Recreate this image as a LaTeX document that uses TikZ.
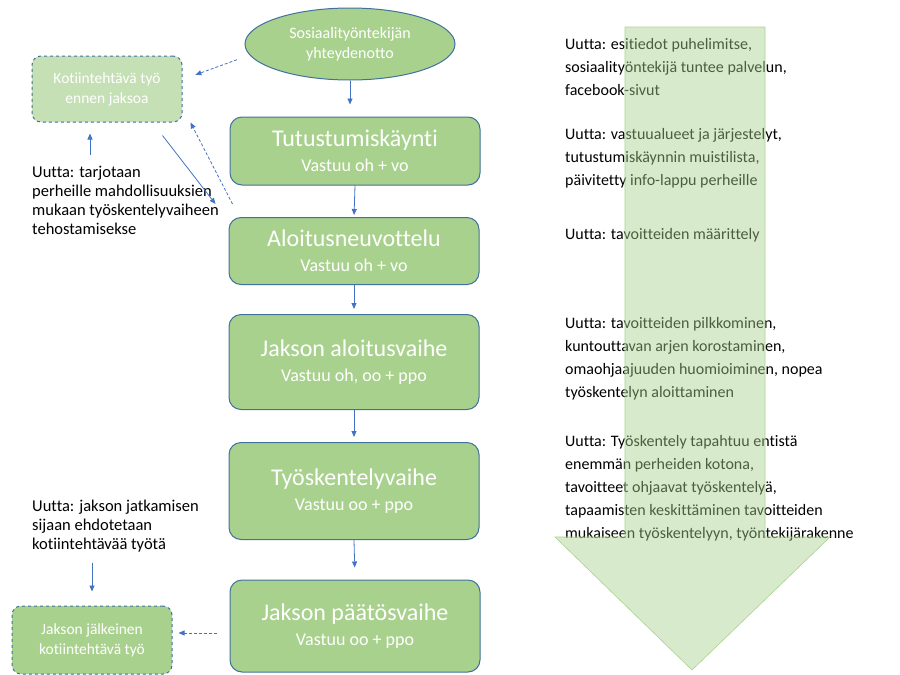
\documentclass[tikz,border=0pt]{standalone}
\usepackage{fontspec}
\setmainfont{Carlito}[Ligatures=NoCommon]
\usepackage{xcolor}
\usepackage{tikz}
\usetikzlibrary{shapes.geometric,arrows.meta,positioning}
\definecolor{boxgreen}{HTML}{A9D18E}
\definecolor{palegreen}{HTML}{C5E0B4}
\definecolor{boxline}{HTML}{41719C}
\definecolor{linkblue}{HTML}{4472C4}
\newcommand{\resp}[1]{{\fontsize{18}{20}\selectfont #1}}

\begin{document}
\begin{tikzpicture}[x=1pt,y=-1pt,
  phase/.style={draw=boxline,line width=1pt,fill=boxgreen,rounded corners=12pt,
    text=white,align=center,minimum width=250pt,inner sep=0pt,
    font=\fontsize{24}{25}\selectfont},
  extra/.style={draw=boxline,line width=1pt,dashed,rounded corners=9pt,
    text=white,align=center,inner sep=0pt,font=\fontsize{15.5}{20}\selectfont},
  note/.style={align=left,inner sep=0pt,font=\fontsize{16.5}{19}\selectfont},
  gain/.style={align=left,inner sep=0pt,font=\fontsize{16}{23}\selectfont},
  link/.style={draw=linkblue,line width=0.8pt,-{Triangle[length=6pt,width=5pt]}},
  linkdash/.style={link,dash pattern=on 3pt off 2pt}]
  \useasboundingbox (0,0) rectangle (900,675);

  % Right column: what is new in each phase
  \node[gain,anchor=north west] (g1) at (565,38) {Uutta: esitiedot puhelimitse,\\sosiaalityöntekijä tuntee palvelun,\\facebook-sivut};
  \node[gain,anchor=north west] (g2) at (565,128) {Uutta: vastuualueet ja järjestelyt,\\tutustumiskäynnin muistilista,\\päivitetty info-lappu perheille};
  \node[gain,anchor=north west] (g3) at (565,228) {Uutta: tavoitteiden määrittely};
  \node[gain,anchor=north west] (g4) at (565,317) {Uutta: tavoitteiden pilkkominen,\\kuntouttavan arjen korostaminen,\\omaohjaajuuden huomioiminen, nopea\\työskentelyn aloittaminen};
  \node[gain,anchor=north west] (g5) at (565,435) {Uutta: Työskentely tapahtuu entistä\\enemmän perheiden kotona,\\tavoitteet ohjaavat työskentelyä,\\tapaamisten keskittäminen tavoitteiden\\mukaiseen työskentelyyn, työntekijärakenne};

  % Big arrow over the texts
  \fill[boxgreen,fill opacity=0.45,draw=boxgreen,draw opacity=1,line width=0.6pt]
    (625,27) -- (765,27) -- (765,537) -- (830,537) -- (692,670) -- (555,537) -- (625,537) -- cycle;

  % Main chain
  \node[ellipse,draw=boxline,line width=1pt,fill=boxgreen,text=white,align=center,
    minimum width=210pt,minimum height=72pt,inner sep=0pt,font=\fontsize{16}{20}\selectfont]
    (soc) at (350,44) {Sosiaalityöntekijän\\yhteydenotto};
  \node[phase,minimum height=68pt] (tutu) at (355,151) {Tutustumiskäynti\\\resp{Vastuu oh + vo}};
  \node[phase,minimum height=67pt] (aloi) at (354,251) {Aloitusneuvottelu\\\resp{Vastuu oh + vo}};
  \node[phase,minimum height=95pt] (jaks) at (354,362) {Jakson aloitusvaihe\\\resp{Vastuu oh, oo + ppo}};
  \node[phase,minimum height=97pt] (tyos) at (354,491) {Työskentelyvaihe\\\resp{Vastuu oo + ppo}};
  \node[phase,minimum height=92pt] (paat) at (355,626) {Jakson päätösvaihe\\\resp{Vastuu oo + ppo}};

  % Home work boxes
  \node[extra,fill=palegreen,minimum width=150pt,minimum height=66pt] (koti) at (107,89) {Kotiintehtävä työ\\ennen jaksoa};
  \node[extra,fill=boxgreen,minimum width=160pt,minimum height=68pt] (jalk) at (92,640) {Jakson jälkeinen\\kotiintehtävä työ};

  % Notes on the left
  \node[note,anchor=north west] (uusi1) at (32,166) {Uutta: tarjotaan\\perheille mahdollisuuksien\\mukaan työskentelyvaiheen\\tehostamisekse};
  \node[note,anchor=north west] (uusi2) at (32,500) {Uutta: jakson jatkamisen\\sijaan ehdotetaan\\kotiintehtävää työtä};

  % Arrows
  \draw[link,shorten >=12pt] (soc.south) -- (soc.south |- tutu.north);
  \foreach \a/\b/\s in {tutu/aloi/2, aloi/jaks/5, jaks/tyos/5, tyos/paat/12}{
    \draw[link,shorten >=\s pt] (\a.south) -- (\b.north);
  }
  \draw[linkdash,shorten <=8pt,shorten >=2pt] ([yshift=-13pt]soc.west) -- ([xshift=11pt,yshift=-20pt]koti.north east);
  \draw[link] ([xshift=-20pt,yshift=-13pt]koti.south east) -- ([xshift=-13pt,yshift=13pt]aloi.north west);
  \draw[linkdash] ([xshift=4pt,yshift=13pt]aloi.north west) -- ([xshift=8pt]koti.south east);
  \draw[link,shorten <=11pt,shorten >=11pt] ([xshift=-17pt]koti.south |- uusi1.north) -- ([xshift=-17pt]koti.south);
  \draw[link,shorten <=10pt,shorten >=14pt] (uusi2.south -| jalk.north) -- (jalk.north);
  \draw[linkdash,shorten <=13pt,shorten >=6pt] ([yshift=-7pt]paat.west) -- ([yshift=-7pt]paat.west -| jalk.east);
\end{tikzpicture}
\end{document}
